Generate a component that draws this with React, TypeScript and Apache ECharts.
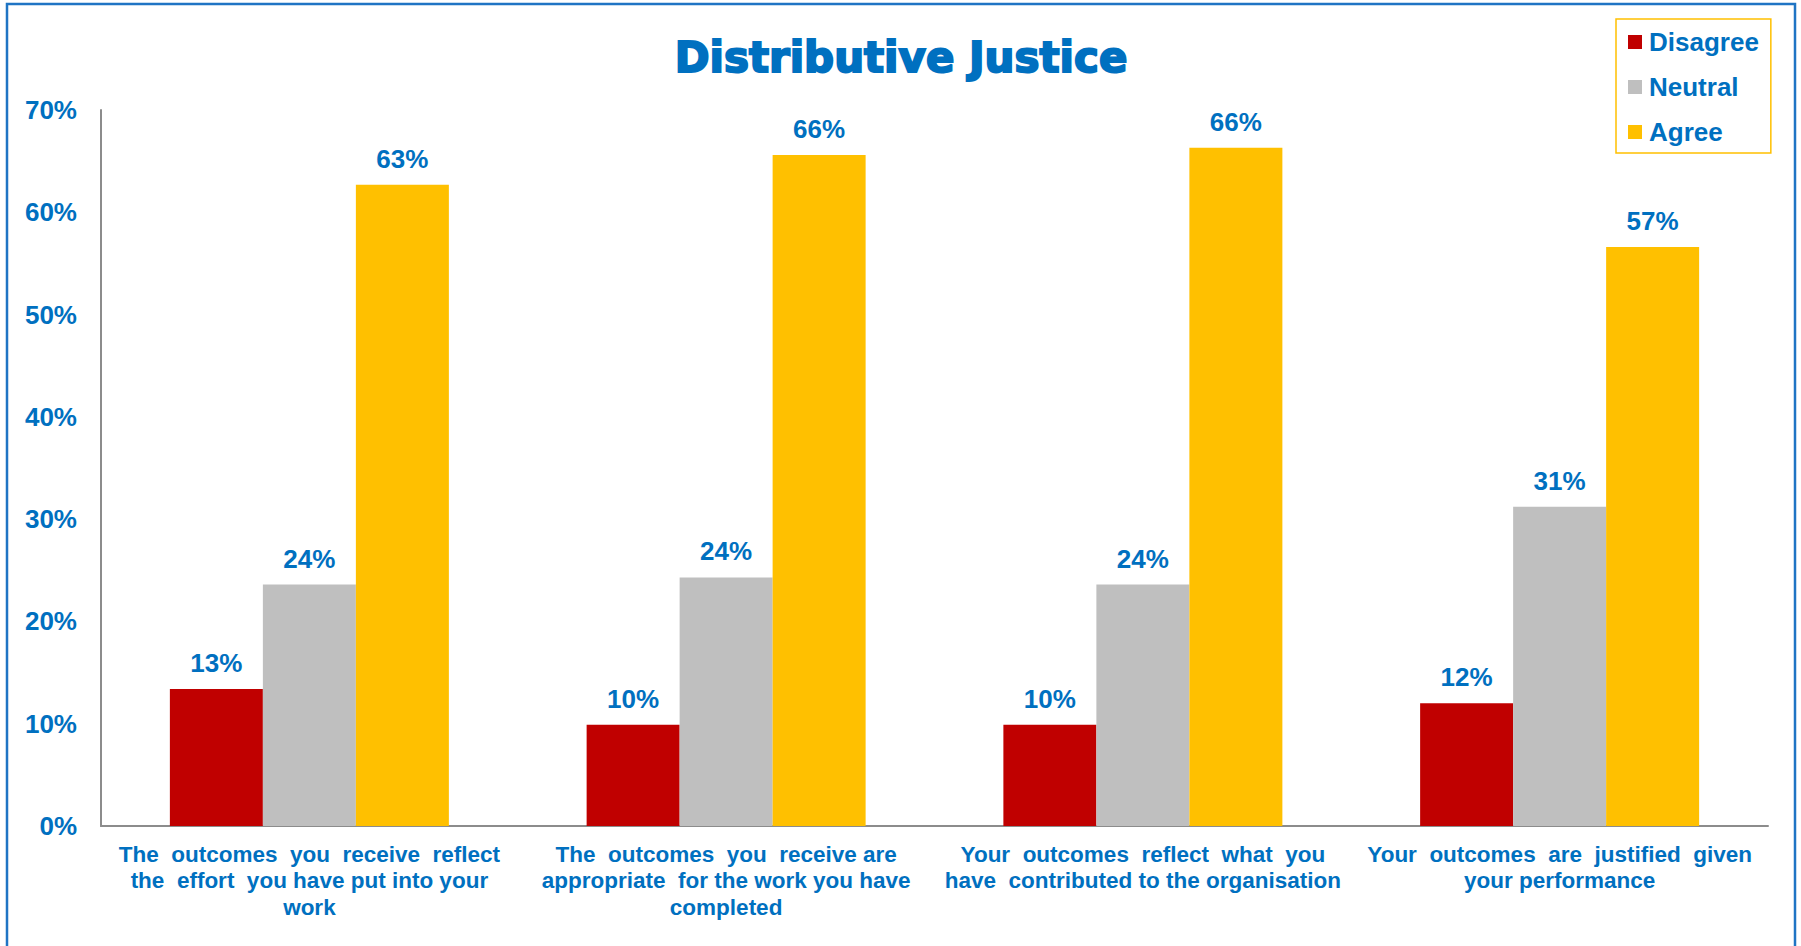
import React, { useEffect, useRef } from "react";
import * as echarts from "echarts";

const categories: string[] = [
  "The  outcomes  you  receive  reflect\nthe  effort  you have put into your\nwork",
  "The  outcomes  you  receive are\nappropriate  for the work you have\ncompleted",
  "Your  outcomes  reflect  what  you\nhave  contributed to the organisation",
  "Your  outcomes  are  justified  given\nyour performance",
];
const seriesNames: string[] = ["Disagree", "Neutral", "Agree"];
const disagree: number[] = [13.4, 9.9, 9.9, 12.0];
const neutral: number[] = [23.6, 24.3, 23.6, 31.2];
const agree: number[] = [62.7, 65.6, 66.3, 56.6];
const yTicks: number[] = [0, 10, 20, 30, 40, 50, 60, 70];
const titleText = "Distributive Justice";

const BLUE = "#0070C0";
const COLORS = ["#C00000", "#BFBFBF", "#FFC000"];
const FONT = "'Liberation Sans', Arial, sans-serif";

export default function App() {
  const ref = useRef<HTMLDivElement>(null);
  useEffect(() => {
    if (!ref.current) return;
    const chart = echarts.init(ref.current, undefined, { renderer: "svg" });
    const values = [disagree, neutral, agree];
    const series = seriesNames.map((name, i) => ({
      name,
      type: "bar",
      data: values[i],
      barWidth: 93,
      barGap: "0%",
      itemStyle: { color: COLORS[i] },
      label: {
        show: true,
        position: "top",
        distance: 13,
        formatter: (p: any) => Math.round(p.value) + "%",
        color: BLUE,
        fontSize: 26,
        fontWeight: "bold",
        fontFamily: FONT,
      },
    }));
    chart.setOption({
      animation: false,
      backgroundColor: "#ffffff",
      graphic: [
        {
          type: "rect",
          shape: { x: 7, y: 4, width: 1788, height: 1000 },
          style: { fill: "none", stroke: "#1F74C4", lineWidth: 2.5 },
          silent: true,
        },
        {
          type: "text",
          x: 901,
          y: 57,
          style: {
            text: titleText,
            fill: BLUE,
            font: "bold 42px 'DejaVu Sans', sans-serif",
            textAlign: "center",
            textVerticalAlign: "middle",
            stroke: BLUE,
            lineWidth: 2,
          },
        },
      ],
      legend: {
        orient: "vertical",
        left: 1616,
        top: 19,
        data: seriesNames,
        icon: "rect",
        itemWidth: 14,
        itemHeight: 14,
        itemGap: 19,
        padding: [10, 12, 8, 12],
        borderColor: "#FFC000",
        borderWidth: 1.5,
        backgroundColor: "#ffffff",
        textStyle: {
          color: BLUE,
          fontSize: 26,
          fontWeight: "bold",
          fontFamily: FONT,
          padding: [0, 0, 0, 2],
        },
      },
      grid: { left: 101, right: 33, top: 110, bottom: 120, containLabel: false },
      xAxis: {
        type: "category",
        data: categories,
        axisLine: { show: true, lineStyle: { color: "#8C8C8C", width: 2 } },
        axisTick: { show: false },
        axisLabel: {
          interval: 0,
          margin: 15,
          color: BLUE,
          fontSize: 22.5,
          fontWeight: "bold",
          fontFamily: FONT,
          lineHeight: 26.5,
          align: "center",
        },
      },
      yAxis: {
        type: "value",
        min: yTicks[0],
        max: yTicks[yTicks.length - 1],
        interval: 10,
        axisLine: { show: true, lineStyle: { color: "#8C8C8C", width: 2 } },
        axisTick: { show: false },
        splitLine: { show: false },
        axisLabel: {
          margin: 24,
          formatter: "{value}%",
          color: BLUE,
          fontSize: 26,
          fontWeight: "bold",
          fontFamily: FONT,
        },
      },
      series,
    });
    return () => chart.dispose();
  }, []);
  return (
    <div
      ref={ref}
      style={{ position: "absolute", left: 0, top: 0, width: 1801, height: 946, background: "#fff" }}
    />
  );
}
